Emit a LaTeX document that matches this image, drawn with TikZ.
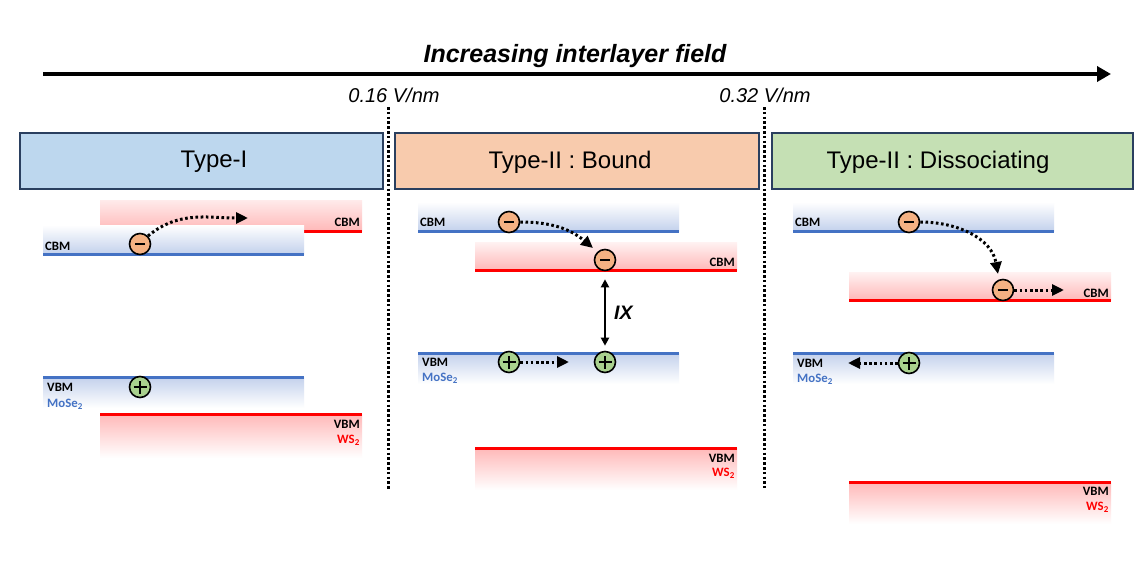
\documentclass[tikz,border=0pt]{standalone}
\usepackage{fontspec}
\setmainfont{Liberation Sans}
\newfontfamily\calfont{Carlito}
\usetikzlibrary{arrows.meta}
\definecolor{bandblue}{HTML}{4472C4}
\definecolor{lightblue}{HTML}{C3D1EC}
\definecolor{bandred}{HTML}{FF0000}
\definecolor{lightred}{HTML}{FFB8B8}
\definecolor{hdrblue}{HTML}{BDD7EE}
\definecolor{hdrorange}{HTML}{F8CBAD}
\definecolor{hdrgreen}{HTML}{C5E0B4}
\definecolor{hdrborder}{HTML}{2A3F5F}
\definecolor{efill}{HTML}{F4B183}
\definecolor{hfill}{HTML}{A9D18E}
\tikzset{
  hdr/.style={draw=hdrborder,line width=2pt},
  hdrtext/.style={font=\fontsize{24}{28}\selectfont,inner sep=0pt},
  blab/.style={font=\calfont\bfseries\fontsize{12.8}{14}\selectfont,inner sep=0pt},
  bline/.style={bandblue,line width=3pt},
  rline/.style={bandred,line width=3pt},
  echarge/.style={circle,draw,line width=1.6pt,fill=efill,minimum size=21pt,inner sep=0pt,
    path picture={\draw[line width=2.8pt] ([xshift=-5pt]path picture bounding box.center)--([xshift=5pt]path picture bounding box.center);}},
  hcharge/.style={circle,draw,line width=1.6pt,fill=hfill,minimum size=21pt,inner sep=0pt,
    path picture={\draw[line width=2pt] ([xshift=-6.5pt]path picture bounding box.center)--([xshift=6.5pt]path picture bounding box.center)
      ([yshift=-6.5pt]path picture bounding box.center)--([yshift=6.5pt]path picture bounding box.center);}},
  dotarrow/.style={line width=3pt,dash pattern=on 2.6pt off 2.6pt,-{Triangle[length=12pt,width=11pt]}},
  vdots/.style={line width=3pt,dash pattern=on 2.6pt off 2.2pt},
}
\begin{document}
\begin{tikzpicture}[x=1pt,y=-1pt]
\useasboundingbox[fill=white] (0,0) rectangle (1144,560);

% top arrow and labels
\coordinate (aS) at (43,74);
\coordinate (aE) at (1111,74);
\draw[line width=4.5pt,-{Triangle[length=14pt,width=15pt]}] (aS) -- (aE);
\node[font=\bfseries\itshape\fontsize{25}{30}\selectfont] (title) at (575,56) {Increasing interlayer field};
\node[font=\itshape\fontsize{20}{24}\selectfont,inner sep=0pt] (f1) at (394,95) {0.16 V/nm};
\node[font=\itshape\fontsize{20}{24}\selectfont,inner sep=0pt] (f2) at (765,95) {0.32 V/nm};

% dotted separators
\coordinate (s1a) at (388,107); \coordinate (s1b) at (388,490);
\coordinate (s2a) at (764,107); \coordinate (s2b) at (764,488);
\draw[vdots] (s1a) -- (s1b);
\draw[vdots] (s2a) -- (s2b);

% headers
\draw[hdr,fill=hdrblue] (20,133) rectangle (383,189);
\draw[hdr,fill=hdrorange] (395,133) rectangle (759,189);
\draw[hdr,fill=hdrgreen] (772,133) rectangle (1133,189);
\node[hdrtext] (h1) at (214,162) {Type-I};
\node[hdrtext] (h2) at (570,162) {Type-II : Bound};
\node[hdrtext] (h3) at (938,162) {Type-II : Dissociating};

% ---------- Panel 1 ----------
\shade[top color=red!8,bottom color=lightred] (100,200) rectangle (362,231);
\draw[rline] (100,231) -- (362,231);
\shade[top color=white,bottom color=lightblue] (43,225) rectangle (304,254);
\draw[bline] (43,254) -- (304,254);
\shade[top color=lightblue,bottom color=white] (43,377) rectangle (304,408);
\draw[bline] (43,377) -- (304,377);
\shade[top color=lightred,bottom color=white] (100,414) rectangle (362,458);
\draw[rline] (100,414) -- (362,414);
\node[blab,anchor=east] (l1a) at (360,222) {CBM};
\node[blab,anchor=west] (l1b) at (45,246) {CBM};
\node[blab,anchor=west] (l1c) at (47,387) {VBM};
\node[blab,anchor=west,text=bandblue] (l1d) at (47,404) {MoSe\textsubscript{2}};
\node[blab,anchor=east] (l1e) at (360,424) {VBM};
\node[blab,anchor=east,text=bandred] (l1f) at (360,440) {WS\textsubscript{2}};
\node[echarge] (e1) at (140,244) {};
\node[hcharge] (p1) at (140,387) {};
\coordinate (t1) at (248,218);
\draw[dotarrow] (e1.north east) to[out=40,in=180] (t1);

% ---------- Panel 2 ----------
\shade[top color=white,bottom color=lightblue] (418,202) rectangle (679,231);
\draw[bline] (418,231) -- (679,231);
\shade[top color=red!5,bottom color=lightred] (475,242) rectangle (737,270);
\draw[rline] (475,270) -- (737,270);
\shade[top color=lightblue,bottom color=white] (418,353) rectangle (679,384);
\draw[bline] (418,353) -- (679,353);
\shade[top color=lightred,bottom color=white] (475,448) rectangle (737,490);
\draw[rline] (475,448) -- (737,448);
\node[blab,anchor=west] (l2a) at (420,222) {CBM};
\node[blab,anchor=east] (l2b) at (735,262) {CBM};
\node[blab,anchor=west] (l2c) at (422,362) {VBM};
\node[blab,anchor=west,text=bandblue] (l2d) at (422,378) {MoSe\textsubscript{2}};
\node[blab,anchor=east] (l2e) at (735,458) {VBM};
\node[blab,anchor=east,text=bandred] (l2f) at (735,473) {WS\textsubscript{2}};
\node[echarge] (e2a) at (509,222) {};
\node[echarge] (e2b) at (605,260) {};
\node[hcharge] (p2a) at (509,362) {};
\node[hcharge] (p2b) at (605,362) {};
\coordinate (t2a) at (593,248);
\coordinate (t2b) at (569,362);
\draw[dotarrow] (e2a.east) to[out=0,in=140] (t2a);
\draw[dotarrow] (p2a.east) -- (t2b);
\draw[line width=2.2pt,{Triangle[length=8pt,width=8pt]}-{Triangle[length=8pt,width=8pt]}] ([yshift=-8pt]e2b.south) -- ([yshift=5pt]p2b.north);
\node[font=\bfseries\itshape\fontsize{19.5}{22}\selectfont,anchor=west,inner sep=0pt] (ix) at (614,313) {IX};

% ---------- Panel 3 ----------
\shade[top color=white,bottom color=lightblue] (793,202) rectangle (1054,231);
\draw[bline] (793,231) -- (1054,231);
\shade[top color=red!5,bottom color=lightred] (849,272) rectangle (1111,300);
\draw[rline] (849,300) -- (1111,300);
\shade[top color=lightblue,bottom color=white] (793,353) rectangle (1054,384);
\draw[bline] (793,353) -- (1054,353);
\shade[top color=lightred,bottom color=white] (849,482) rectangle (1111,524);
\draw[rline] (849,482) -- (1111,482);
\node[blab,anchor=west] (l3a) at (795,222) {CBM};
\node[blab,anchor=east] (l3b) at (1109,293) {CBM};
\node[blab,anchor=west] (l3c) at (797,363) {VBM};
\node[blab,anchor=west,text=bandblue] (l3d) at (797,379) {MoSe\textsubscript{2}};
\node[blab,anchor=east] (l3e) at (1109,491) {VBM};
\node[blab,anchor=east,text=bandred] (l3f) at (1109,507) {WS\textsubscript{2}};
\node[echarge] (e3a) at (909,222) {};
\node[echarge] (e3b) at (1003,290) {};
\node[hcharge] (p3) at (909,363) {};
\coordinate (t3a) at (998,274);
\coordinate (t3b) at (1064,290);
\coordinate (t3c) at (848,363);
\draw[dotarrow] (e3a.east) to[out=0,in=100] (t3a);
\draw[dotarrow] (e3b.east) -- (t3b);
\draw[dotarrow] (p3.west) -- (t3c);
\end{tikzpicture}
\end{document}
